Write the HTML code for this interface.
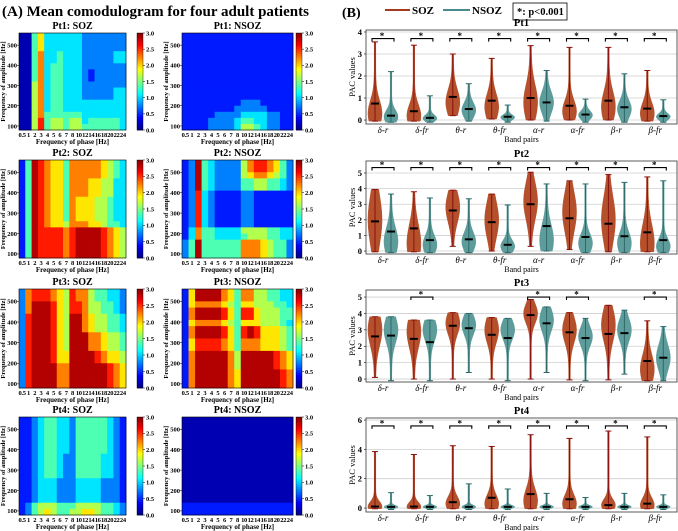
<!DOCTYPE html>
<html><head><meta charset="utf-8"><style>
html,body{margin:0;padding:0;background:#fff;}
svg{display:block;font-family:"Liberation Serif",serif;}
</style></head><body>
<svg id="fig" width="678" height="531" viewBox="0 0 678 531" xmlns="http://www.w3.org/2000/svg"></svg>
<script>
// ---------- Panel A data (comodulogram rows, top row = highest amplitude freq; digit d -> PAC level) ----------
const phaseLabels = ["0.5","1","2","3","4","5","6","7","8","10","12","14","16","18","20","22","24"];
const ampTicks = [100,200,300,400,500];
const cbTicks = ["0.0","0.5","1.0","1.5","2.0","2.5","3.0"];
const pt1Soz = ["00463333332222222","00463333332222222","00463333332222222","00473343332222233","00473343332222233","00473443332222222","00473443332122222","00473443332122222","00573443332222222","00573443332222233","00573443332222233","00573443333333333","00573443333333333","00574444443333333","00584554553444443","00584554554444443"];
const pt1Nsoz = ["11111111111111111","11111111111111111","11111111111111111","11111111111111111","11111111111111111","11111111111111111","11111111111111111","11111111111111111","11111111111111111","11111111111111111","11111111111111111","11111111122211111","11111111222221111","11111222233332211","11112222344332211","11112222355432211"];
const pt2Soz = ["14987664777776543","14987664777776543","14987664777776543","14987664777665533","14987664777665533","14987664777665533","14987664766655433","14987664766655433","14987664766655433","14987664766655433","14987665777665443","14988887899998765","14988887899998765","14988887899998765","14988887899998765","14988887899998765"];
const pt2Nsoz = ["12943222257887642","12943222257887642","12943222256776542","12943222244554432","12943222244554432","12832111122111111","12832111122111111","12832111122111111","12832111122111111","12832111122111111","12832111122111111","13744333355554433","13744333345554433","24944444477765442","24944444477765442","24944444477765442"];
const pt3Soz = ["27888765877544332","27888765877544332","27999865887554432","27999865887554432","28999865997655443","28999865997655443","28999865997655443","28999865999776554","28999865999776554","28999865999776554","28999866999987665","28999866999987665","28999977999999876","28999977999999876","28999977999999876","28999977999999876"];
const pt3Nsoz = ["16999976477554433","16999976477554433","16777765466555443","17999986488655544","17999986488655544","16777765466655543","17999986489866654","17999986489866654","16888876477766654","16888876477766654","17999997599999876","17999997599999876","17999997599999876","17999997699999987","17999997699999987","17999997699999987"];
const pt4Soz = ["11234433244444321","11234433244444321","11234433244444321","11234433244444321","11234433244444321","11234433244444321","11234432244443321","11234432244443321","11234432244443321","11234432244443321","11233322233332221","11233322233332221","11233322233332221","11233322233332221","12455544455554432","12456544556654432"];
const pt4Nsoz = ["00000000000000000","00000000000000000","00000000000000000","00000000000000000","00000000000000000","00000000000000000","00000000000000000","00000000000000000","00000000000000000","00000000000000000","00000000000000000","00000000000000000","00000000000000000","00000000000000000","11111111111111111","11111111111111111"];

// ---------- Panel B data ----------
const bandPairs = ["δ-r","δ-fr","θ-r","θ-fr","α-r","α-fr","β-r","β-fr"];
const pt1SozMax=[3.55,3.4,3.0,2.8,3.38,3.3,3.3,2.25], pt1SozMed=[0.75,0.4,1.05,0.88,1.0,0.65,0.88,0.52], pt1SozMin=[-0.05,-0.05,0.2,0.05,0,0,0,-0.05];
const pt1SozMode=[0.3,0.2,0.8,0.6,0.8,0.4,0.6,0.3], pt1SozSd=[0.6,0.5,0.6,0.6,0.8,0.5,0.7,0.5];
const pt1NsMax=[2.2,1.1,1.65,0.68,2.25,0.95,2.1,0.92], pt1NsMed=[0.2,0.1,0.5,0.15,0.8,0.25,0.58,0.18], pt1NsMin=[-0.1,-0.1,-0.05,-0.1,-0.05,-0.1,-0.1,-0.1];
const pt1NsMode=[0.15,0.08,0.45,0.12,0.8,0.22,0.5,0.15], pt1NsSd=[0.3,0.15,0.35,0.12,0.5,0.2,0.4,0.15];
const pt2SozMax=[3.95,3.8,3.9,3.65,5.05,4.5,4.9,4.75], pt2SozMed=[1.9,1.45,2.6,1.85,3.0,2.1,1.75,1.2], pt2SozMin=[-0.05,-0.05,0.3,0,0.3,0.1,-0.05,-0.05];
const pt2SozMode=[2,0.5,2.8,2,3.2,2.5,2,0.5], pt2SozSd=[1.6,1.2,1,1.2,1.2,1.3,1.5,1.2];
const pt2NsMax=[3.65,3.4,3.35,2.95,4.3,4.3,4.4,4.5], pt2NsMed=[1.25,0.7,0.75,0.4,1.6,0.9,0.95,0.7], pt2NsMin=[-0.1,-0.1,-0.1,-0.1,0,-0.1,-0.1,-0.1];
const pt2NsMode=[0.6,0.4,0.6,0.3,0.7,0.5,0.5,0.3], pt2NsSd=[0.9,0.6,0.6,0.4,1,0.6,0.7,0.5];
const pt3SozMax=[3.8,3.6,4.05,3.75,4.85,4.05,4.5,3.55], pt3SozMed=[2.6,2.45,3.25,2.7,3.9,2.85,2.75,1.1], pt3SozMin=[0.1,0,0,0,0,-0.05,-0.05,-0.1];
const pt3SozMode=[3,2.9,3.4,3,4,3,3.3,0.6], pt3SozSd=[1,1,0.7,0.8,0.6,0.8,1,0.9];
const pt3NsMax=[3.8,3.6,4.0,3.7,4.4,3.7,4.2,3.2], pt3NsMed=[2.65,2.25,3.1,2.5,3.4,2.5,2.8,1.3], pt3NsMin=[-0.1,-0.1,0.4,-0.1,0.4,-0.1,0.3,-0.1];
const pt3NsMode=[3,3,3.3,3,3.6,2.6,3,1.3], pt3NsSd=[0.8,0.7,0.6,0.6,0.7,0.6,0.7,0.8];
const pt4SozMax=[3.85,3.65,4.25,4.2,5.0,4.75,5.25,4.85], pt4SozMed=[0.1,0.1,0.4,0.7,0.95,0.6,0.2,0.3], pt4SozMin=[-0.05,-0.05,-0.05,-0.05,-0.05,-0.05,-0.05,-0.05];
const pt4SozMode=[0.1,0.1,0.3,0.3,0.5,0.3,0.2,0.2], pt4SozSd=[0.35,0.3,0.5,0.6,0.8,0.6,0.4,0.5];
const pt4NsMax=[1.05,0.85,1.65,1.3,1.0,0.72,1.0,0.9], pt4NsMed=[0.08,0.08,0.08,0.08,0.08,0.08,0.08,0.08], pt4NsMin=[-0.1,-0.1,-0.1,-0.1,-0.1,-0.1,-0.1,-0.1];
const pt4NsMode=[0.08,0.08,0.08,0.08,0.08,0.08,0.08,0.08], pt4NsSd=[0.1,0.1,0.12,0.1,0.1,0.1,0.1,0.1];
const pt1Sig=[0,1,2,3,4,5,6,7], pt2Sig=[0,1,2,3,4,5,6,7], pt3Sig=[1,4,5,7], pt4Sig=[0,1,2,3,4,5,6,7];
const pt1Ticks=[0,1,2,3,4], pt2Ticks=[0,1,2,3,4,5], pt3Ticks=[0,1,2,3,4,5], pt4Ticks=[0,2,4,6];

const NS="http://www.w3.org/2000/svg";
const svg=document.getElementById('fig');
function mk(tag,attrs,parent,text){const e=document.createElementNS(NS,tag);for(const k in attrs)e.setAttribute(k,attrs[k]);if(text!==undefined)e.textContent=text;(parent||svg).appendChild(e);return e;}
function jet(x){x=Math.max(0,Math.min(1,x));const c=v=>Math.round(255*Math.max(0,Math.min(1,v)));return `rgb(${c(1.5-Math.abs(4*x-3))},${c(1.5-Math.abs(4*x-2))},${c(1.5-Math.abs(4*x-1))})`;}

let t=mk('text',{x:2,y:16,'font-size':15,'font-weight':'bold'},svg,'(A) Mean comodulogram for four adult patients');



const heatmaps=[
 {name:'Pt1: SOZ',data:pt1Soz,col:0,row:0},{name:'Pt1: NSOZ',data:pt1Nsoz,col:1,row:0},
 {name:'Pt2: SOZ',data:pt2Soz,col:0,row:1},{name:'Pt2: NSOZ',data:pt2Nsoz,col:1,row:1},
 {name:'Pt3: SOZ',data:pt3Soz,col:0,row:2},{name:'Pt3: NSOZ',data:pt3Nsoz,col:1,row:2},
 {name:'Pt4: SOZ',data:pt4Soz,col:0,row:3},{name:'Pt4: NSOZ',data:pt4Nsoz,col:1,row:3}];
const colX=[[19,126,137],[182,293,296]], rowY=[[33,130],[160,258],[289,388],[417,515]];
heatmaps.forEach(h=>{
  const [x0,x1,cbx]=colX[h.col],[y0,y1]=rowY[h.row];
  const g=mk('g',{});
  
  
  const nr=h.data.length,nc=phaseLabels.length,cw=(x1-x0)/nc,rh=(y1-y0)/nr;
  h.data.forEach((row,ri)=>{for(let ci=0;ci<nc;ci++){
    const v=(+row[ci])*0.3+0.15; // PAC value 0..3
    const r=mk('rect',{x:(x0+ci*cw).toFixed(2),y:(y0+ri*rh).toFixed(2),width:(cw+0.4).toFixed(2),height:(rh+0.4).toFixed(2),fill:jet(v/3)},g);
    
    
  }});
  mk('rect',{x:x0,y:y0,width:x1-x0,height:y1-y0,fill:'none',stroke:'#000','stroke-width':0.6},g);
  const tt=mk('text',{x:(x0+x1)/2,y:y0-4,'font-size':10,'font-weight':'bold','text-anchor':'middle'},g,h.name);
  
  
  const ay=f=>y0+(y1-y0)*(560-f)/480;
  ampTicks.forEach(f=>{mk('line',{x1:x0-2,x2:x0,y1:ay(f),y2:ay(f),stroke:'#000','stroke-width':0.5},g);
    const l=mk('text',{x:x0-2,y:ay(f)+2.3,'font-size':6.5,'font-weight':'bold','text-anchor':'end'},g,String(f));
    
    });
  phaseLabels.forEach((p,i)=>{const l=mk('text',{x:x0+(i+0.5)*cw,y:y1+7,'font-size':6.5,'font-weight':'bold','text-anchor':'middle','letter-spacing':'-0.3'},g,p);
    
    });
  const yl=mk('text',{transform:`translate(${x0-14},${(y0+y1)/2}) rotate(-90)`,'font-size':6.5,'font-weight':'bold','text-anchor':'middle'},g,'Frequency of amplitude [Hz]');
  
  
  const xl=mk('text',{x:(x0+x1)/2,y:y1+14,'font-size':7,'font-weight':'bold','text-anchor':'middle'},g,'Frequency of phase [Hz]');
  
  
  const cb=mk('g',{},g);
  
  
  const steps=60;for(let s=0;s<steps;s++){mk('rect',{x:cbx,y:(y0+(y1-y0)*s/steps).toFixed(2),width:6,height:((y1-y0)/steps+0.4).toFixed(2),fill:jet(1-(s+0.5)/steps)},cb);}
  mk('rect',{x:cbx,y:y0,width:6,height:y1-y0,fill:'none',stroke:'#000','stroke-width':0.4},cb);
  cbTicks.forEach(v=>{const yy=y1-(y1-y0)*(+v)/3;mk('line',{x1:cbx+6,x2:cbx+8,y1:yy,y2:yy,stroke:'#000','stroke-width':0.5},cb);
    const l=mk('text',{x:cbx+9,y:yy+2.3,'font-size':6.5,'font-weight':'bold'},cb,v);
    
    });
});

// ---------- Panel B ----------
const RED_FILL='#b5502c',RED_EDGE='#8a1010',TEAL_FILL='#5d9c9a',TEAL_EDGE='#2e6a6a';
t=mk('text',{x:342,y:17,'font-size':14,'font-weight':'bold'},svg,'(B)');


const lg=mk('g',{});


mk('line',{x1:385,x2:410,y1:10,y2:10,stroke:'#a63a1c','stroke-width':2},lg);
let le=mk('text',{x:412,y:14,'font-size':11,'font-weight':'bold'},lg,'SOZ');


mk('line',{x1:443,x2:470,y1:10,y2:10,stroke:'#4a8a8a','stroke-width':2},lg);
le=mk('text',{x:472,y:14,'font-size':11,'font-weight':'bold'},lg,'NSOZ');


mk('rect',{x:513,y:3,width:54,height:17,fill:'#fff',stroke:'#000','stroke-width':0.8},lg);
le=mk('text',{x:517,y:15,'font-size':10.5,'font-weight':'bold'},lg,'*: p<0.001');



const panels=[
 {name:'Pt1',top:30,bot:124,vTop:4.09,vBot:-0.18,ticks:pt1Ticks,sig:pt1Sig,br:3.7,s:[pt1SozMin,pt1SozMax,pt1SozMed,pt1SozMode,pt1SozSd],n:[pt1NsMin,pt1NsMax,pt1NsMed,pt1NsMode,pt1NsSd]},
 {name:'Pt2',top:161,bot:254,vTop:5.77,vBot:-0.19,ticks:pt2Ticks,sig:pt2Sig,br:5.35,s:[pt2SozMin,pt2SozMax,pt2SozMed,pt2SozMode,pt2SozSd],n:[pt2NsMin,pt2NsMax,pt2NsMed,pt2NsMode,pt2NsSd]},
 {name:'Pt3',top:290,bot:382,vTop:5.43,vBot:-0.18,ticks:pt3Ticks,sig:pt3Sig,br:5.0,s:[pt3SozMin,pt3SozMax,pt3SozMed,pt3SozMode,pt3SozSd],n:[pt3NsMin,pt3NsMax,pt3NsMed,pt3NsMode,pt3NsSd]},
 {name:'Pt4',top:418,bot:512,vTop:6.14,vBot:-0.27,ticks:pt4Ticks,sig:pt4Sig,br:5.6,s:[pt4SozMin,pt4SozMax,pt4SozMed,pt4SozMode,pt4SozSd],n:[pt4NsMin,pt4NsMax,pt4NsMed,pt4NsMode,pt4NsSd]}];
const BX0=366,BX1=677,C0=383,DC=38.9;
const xc=i=>C0+i*DC;
panels.forEach(p=>{
  const g=mk('g',{});
  
  
  const ys=v=>p.bot-(v-p.vBot)/(p.vTop-p.vBot)*(p.bot-p.top);
  p.ticks.forEach(v=>{mk('line',{x1:BX0,x2:BX1,y1:ys(v),y2:ys(v),stroke:'#cfcfcf','stroke-width':0.8},g);
    mk('line',{x1:BX0-2,x2:BX0,y1:ys(v),y2:ys(v),stroke:'#000','stroke-width':0.6},g);
    const l=mk('text',{x:BX0-4,y:ys(v)+3,'font-size':8.5,'font-weight':'bold','text-anchor':'end'},g,String(v));
    
    });
  const tl=mk('text',{x:(BX0+BX1)/2,y:p.top-4,'font-size':10.5,'font-weight':'bold','text-anchor':'middle'},g,p.name);
  
  
  const yl=mk('text',{transform:`translate(355,${(p.top+p.bot)/2}) rotate(-90)`,'font-size':8.5,'text-anchor':'middle'},g,'PAC values');
  
  
  const xl=mk('text',{x:(BX0+BX1)/2,y:p.bot+18,'font-size':8,'text-anchor':'middle'},g,'Band pairs');
  
  
  function violin(cx,arr,i,fill,edge,label){
    const mn=arr[0][i],mx=arr[1][i],md=arr[2][i],mo=arr[3][i],sd=arr[4][i];
    const N=40,W=7,pts=[];
    for(let k=0;k<=N;k++){const v=mn+(mx-mn)*k/N;const w=0.8+(W-0.8)*Math.exp(-0.5*Math.pow((v-mo)/sd,2));pts.push([v,w]);}
    let d='M'+pts.map(q=>(cx-q[1]).toFixed(2)+','+ys(q[0]).toFixed(2)).join(' L');
    d+=' L'+pts.slice().reverse().map(q=>(cx+q[1]).toFixed(2)+','+ys(q[0]).toFixed(2)).join(' L')+' Z';
    const vg=mk('g',{},g);
    
    
    mk('path',{d:d,fill:fill,stroke:fill,'stroke-width':0.5},vg);
    mk('line',{x1:cx,x2:cx,y1:ys(mn),y2:ys(mx),stroke:edge,'stroke-width':1},vg);
    mk('line',{x1:cx-3,x2:cx+3,y1:ys(mx),y2:ys(mx),stroke:edge,'stroke-width':1},vg);
    mk('line',{x1:cx-3,x2:cx+3,y1:ys(mn),y2:ys(mn),stroke:edge,'stroke-width':1},vg);
    mk('line',{x1:cx-4,x2:cx+4,y1:ys(md),y2:ys(md),stroke:'#000','stroke-width':2},vg);
  }
  bandPairs.forEach((b,i)=>{
    violin(xc(i)-8,p.s,i,RED_FILL,RED_EDGE,'soz');
    violin(xc(i)+8,p.n,i,TEAL_FILL,TEAL_EDGE,'nsoz');
    const l=mk('text',{x:xc(i),y:p.bot+9,'font-size':9,'font-style':'italic','text-anchor':'middle'},g,b);
    
    
  });
  p.sig.forEach(i=>{const by=ys(p.br);
    const sg=mk('g',{},g);
    
    
    mk('path',{d:`M${xc(i)-11},${by+3} L${xc(i)-11},${by} L${xc(i)+11},${by} L${xc(i)+11},${by+3}`,fill:'none',stroke:'#000','stroke-width':1.1},sg);
    mk('text',{x:xc(i)-1,y:by+0.5,'font-size':9,'font-weight':'bold','text-anchor':'middle'},sg,'*');});
  mk('rect',{x:BX0,y:p.top,width:BX1-BX0,height:p.bot-p.top,fill:'none',stroke:'#333','stroke-width':0.8},g);
});
</script>
</body></html>
